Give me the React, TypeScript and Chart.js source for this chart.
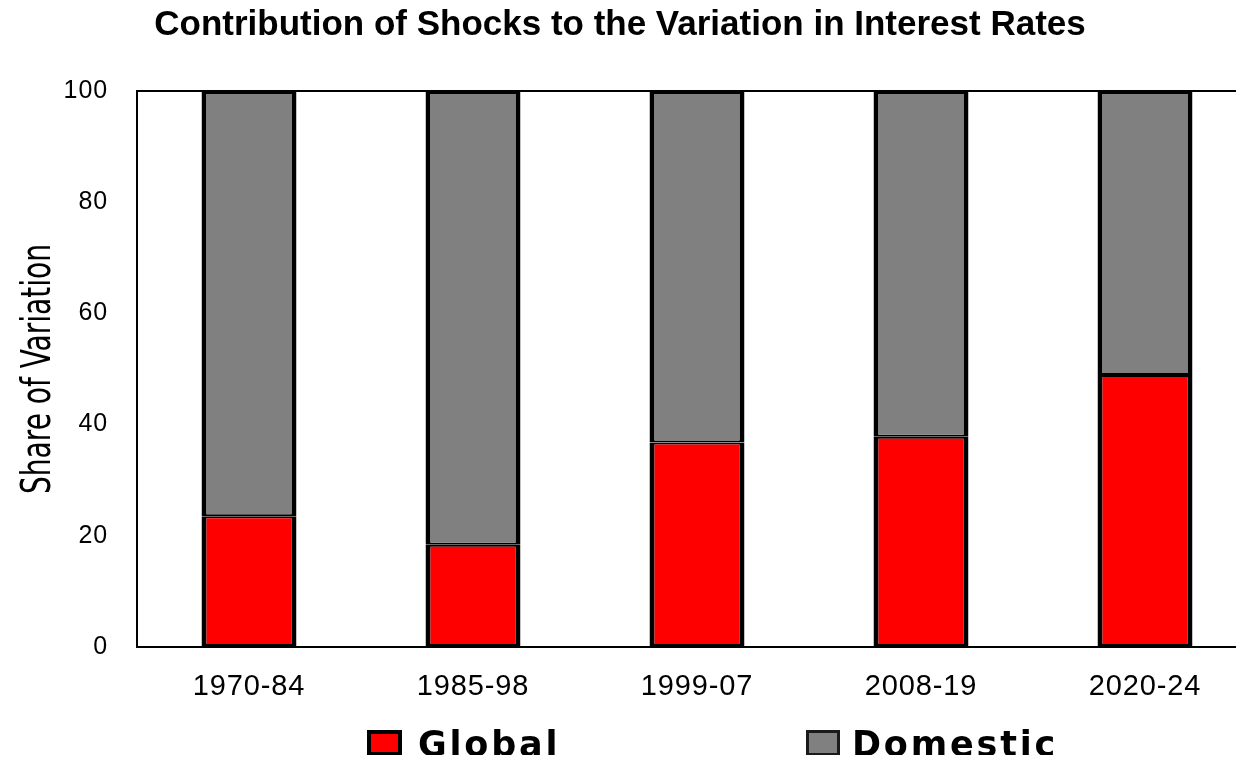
import React, { useEffect, useRef } from 'react';
import { Chart, registerables } from 'chart.js';

Chart.register(...registerables);

const categories = ['1970-84', '1985-98', '1999-07', '2008-19', '2020-24'];
const globalShare = [23.5, 18.4, 36.8, 37.8, 48.9];
const domesticShare = [76.5, 81.6, 63.2, 62.2, 51.1];
const yTickValues = [0, 20, 40, 60, 80, 100];
const seriesNames = ['Global', 'Domestic'];
const seriesColors = ['#FF0000', '#808080'];
const titleText = 'Contribution of Shocks to the Variation in Interest Rates';
const yAxisTitle = 'Share of Variation';

const FONT = '"Liberation Sans", Arial, sans-serif';
const LEGEND_FONT = '"DejaVu Sans", "Liberation Sans", sans-serif';

const framePlugin = {
  id: 'frame',
  beforeDraw(chart: any) {
    chart.ctx.letterSpacing = '0.9px';
  },
  afterDraw(chart: any) {
    const { ctx, chartArea } = chart;
    ctx.save();
    ctx.letterSpacing = '0px';
    ctx.strokeStyle = '#000';
    ctx.lineWidth = 2;
    ctx.beginPath();
    ctx.moveTo(chartArea.left - 1, chartArea.top);
    ctx.lineTo(chart.width, chartArea.top);
    ctx.stroke();
    ctx.translate(42, (chartArea.top + chartArea.bottom) / 2);
    ctx.rotate(-Math.PI / 2);
    ctx.font = '41px "Liberation Sans Narrow", "DejaVu Sans Condensed", sans-serif';
    const w = ctx.measureText(yAxisTitle).width;
    ctx.scale(250 / w, 1);
    ctx.fillStyle = '#000';
    ctx.textAlign = 'center';
    ctx.textBaseline = 'alphabetic';
    ctx.fillText(yAxisTitle, 0, 0);
    ctx.restore();
    ctx.letterSpacing = '0px';
  },
};

export default function App() {
  const canvasRef = useRef<HTMLCanvasElement | null>(null);

  useEffect(() => {
    if (!canvasRef.current) return;
    const chart = new Chart(canvasRef.current, {
      type: 'bar',
      data: {
        labels: categories,
        datasets: [
          {
            label: seriesNames[0],
            data: globalShare,
            backgroundColor: seriesColors[0],
            borderColor: '#000',
            borderWidth: { top: 2, left: 5, right: 5, bottom: 3 },
            borderSkipped: false,
            barPercentage: 0.424,
            categoryPercentage: 1,
          },
          {
            label: seriesNames[1],
            data: domesticShare,
            backgroundColor: seriesColors[1],
            borderColor: '#000',
            borderWidth: { top: 3, left: 5, right: 5, bottom: 2 },
            borderSkipped: false,
            barPercentage: 0.424,
            categoryPercentage: 1,
          },
        ],
      },
      options: {
        animation: false,
        responsive: true,
        maintainAspectRatio: false,
        layout: { padding: { top: 83, right: 16, bottom: 48, left: 0 } },
        plugins: {
          legend: { display: false },
          title: { display: false },
          tooltip: { enabled: false },
        },
        scales: {
          x: {
            stacked: true,
            grid: { display: false, drawTicks: false },
            border: { display: true, color: '#000', width: 2 },
            ticks: {
              color: '#000',
              font: { family: FONT, size: 29 },
              padding: 23,
              maxRotation: 0,
            },
            afterFit(scale: any) {
              scale.height = 60;
            },
          },
          y: {
            stacked: true,
            min: 0,
            max: 100,
            grid: { display: false, drawTicks: false },
            border: { display: true, color: '#000', width: 2 },
            ticks: {
              stepSize: 20,
              color: '#000',
              font: { family: FONT, size: 25 },
              padding: 29,
              callback: (v: any) => (yTickValues.includes(Number(v)) ? String(v) : ''),
            },
            afterFit(scale: any) {
              scale.width = 129;
            },
          },
        },
      },
      plugins: [framePlugin],
    });
    return () => chart.destroy();
  }, []);

  const legendText: React.CSSProperties = {
    position: 'absolute',
    top: 716,
    fontFamily: LEGEND_FONT,
    fontWeight: 'bold',
    fontSize: 35,
    lineHeight: '40px',
    letterSpacing: '2.8px',
    color: '#000',
    whiteSpace: 'nowrap',
  };

  return (
    <div style={{ position: 'relative', width: 1236, height: 747 }}>
      <div style={{ position: 'absolute', left: 0, top: 0, width: 1236, height: 747, overflow: 'hidden' }}>
        <div style={{ position: 'relative', width: 1265, height: 747 }}>
          <canvas ref={canvasRef} />
        </div>
      </div>
      <div
        style={{
          position: 'absolute',
          left: 0,
          top: -5,
          width: 1224,
          textAlign: 'center',
          fontFamily: FONT,
          fontWeight: 'bold',
          fontSize: 35,
          lineHeight: '40px',
          color: '#000',
          whiteSpace: 'nowrap',
        }}
      >
        {titleText}
      </div>
      <div
        style={{
          position: 'absolute',
          left: 359,
          top: 722,
          width: 35,
          height: 26,
          boxSizing: 'border-box',
          border: '4px solid #000',
          background: seriesColors[0],
        }}
      />
      <div style={{ ...legendText, left: 410 }}>{seriesNames[0]}</div>
      <div
        style={{
          position: 'absolute',
          left: 798,
          top: 722,
          width: 34,
          height: 26,
          boxSizing: 'border-box',
          border: '3px solid #1a1a1a',
          background: seriesColors[1],
        }}
      />
      <div style={{ ...legendText, left: 844 }}>{seriesNames[1]}</div>
    </div>
  );
}
